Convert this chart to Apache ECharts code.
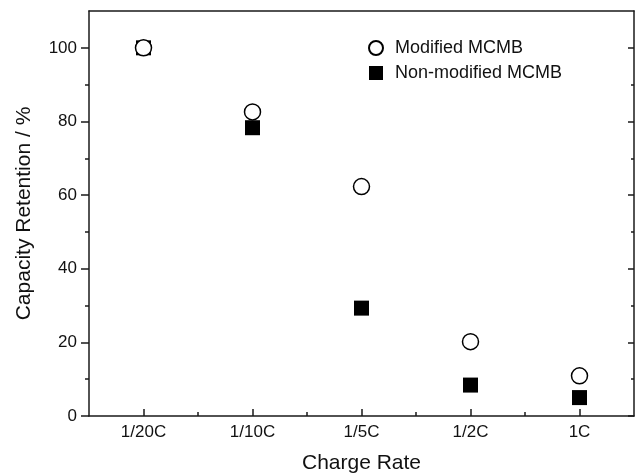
<!DOCTYPE html>
<html>
<head>
<meta charset="utf-8">
<script src="https://cdn.jsdelivr.net/npm/echarts@6/dist/echarts.min.js"></script>
<style>html,body{margin:0;padding:0;background:#fff;}#c{width:640px;height:473px;}</style>
</head>
<body>
<div id="c"></div>
<script>
var categories = ['1/20C', '1/10C', '1/5C', '1/2C', '1C'];
var modified = [100, 82.6, 62.3, 20.2, 10.9];
var nonModified = [100, 78.3, 29.3, 8.4, 5.0];
var yMajor = [0, 20, 40, 60, 80, 100];
var yMinor = [10, 30, 50, 70, 90];
var xPos = [1, 2, 3, 4, 5];
var xMinor = [1.5, 2.5, 3.5, 4.5];

var FONT = '"Liberation Sans", Arial, sans-serif';
var LINE = {color: '#1a1a1a', width: 1.5};
var TXT = '#111';

function xAxisBase(extra) {
  return Object.assign({
    type: 'value', min: 0.5, max: 5.5, gridIndex: 0,
    splitLine: {show: false}, axisLine: {show: false, lineStyle: LINE},
    axisTick: {show: false}, axisLabel: {show: false}
  }, extra);
}
function yAxisBase(extra) {
  return Object.assign({
    type: 'value', min: 0, max: 110, gridIndex: 0,
    splitLine: {show: false}, axisLine: {show: false, lineStyle: LINE},
    axisTick: {show: false}, axisLabel: {show: false}
  }, extra);
}

var chart = echarts.init(document.getElementById('c'));
chart.setOption({
  animation: false,
  backgroundColor: '#fff',
  textStyle: {fontFamily: FONT},
  grid: {left: 89, right: 6, top: 11, bottom: 57, containLabel: false, outerBoundsMode: 'none'},
  legend: {
    orient: 'vertical', left: 363, top: 34, itemWidth: 14, itemHeight: 14, itemGap: 7,
    textStyle: {fontSize: 18, color: TXT, fontFamily: FONT, padding: [0, 0, 0, 7]},
    data: ['Modified MCMB', 'Non-modified MCMB']
  },
  xAxis: [
    xAxisBase({
      position: 'bottom',
      axisLine: {show: true, onZero: false, lineStyle: LINE},
      axisTick: {show: true, inside: true, length: 7, customValues: xPos, lineStyle: LINE},
      axisLabel: {show: true, customValues: xPos, margin: 8, fontSize: 17, color: TXT, fontFamily: FONT,
        formatter: function (v) { return categories[Math.round(v) - 1] || ''; }},
      name: 'Charge Rate', nameLocation: 'middle', nameGap: 37,
      nameTextStyle: {fontSize: 21, color: TXT, fontFamily: FONT}
    }),
    xAxisBase({
      position: 'bottom', offset: 0,
      axisTick: {show: true, inside: true, length: 4, customValues: xMinor, lineStyle: LINE}
    }),
    xAxisBase({
      position: 'top',
      axisLine: {show: true, onZero: false, lineStyle: LINE}
    })
  ],
  yAxis: [
    yAxisBase({
      position: 'left',
      axisLine: {show: true, onZero: false, lineStyle: LINE},
      axisTick: {show: true, inside: false, length: 8, customValues: yMajor, lineStyle: LINE},
      axisLabel: {show: true, customValues: yMajor, margin: 12, fontSize: 17, color: TXT, fontFamily: FONT},
      name: 'Capacity Retention / %', nameLocation: 'middle', nameGap: 54,
      nameTextStyle: {fontSize: 21, color: TXT, fontFamily: FONT}
    }),
    yAxisBase({
      position: 'left', offset: 0,
      axisTick: {show: true, inside: false, length: 4, customValues: yMinor, lineStyle: LINE}
    }),
    yAxisBase({
      position: 'right',
      axisLine: {show: true, onZero: false, lineStyle: LINE},
      axisTick: {show: true, inside: true, length: 6, customValues: yMajor, lineStyle: LINE}
    }),
    yAxisBase({
      position: 'right', offset: 0,
      axisTick: {show: true, inside: true, length: 3, customValues: yMinor, lineStyle: LINE}
    })
  ],
  series: [
    {
      name: 'Non-modified MCMB', type: 'scatter', xAxisIndex: 0, yAxisIndex: 0, z: 2,
      symbol: 'rect', symbolSize: 15,
      itemStyle: {color: '#000', opacity: 1},
      data: nonModified.map(function (v, i) { return [xPos[i], v]; })
    },
    {
      name: 'Modified MCMB', type: 'scatter', xAxisIndex: 0, yAxisIndex: 0, z: 3,
      symbol: 'circle', symbolSize: 16,
      itemStyle: {color: '#fff', borderColor: '#000', borderWidth: 1.5, opacity: 1},
      data: modified.map(function (v, i) { return [xPos[i], v]; })
    }
  ]
});
</script>
</body>
</html>
